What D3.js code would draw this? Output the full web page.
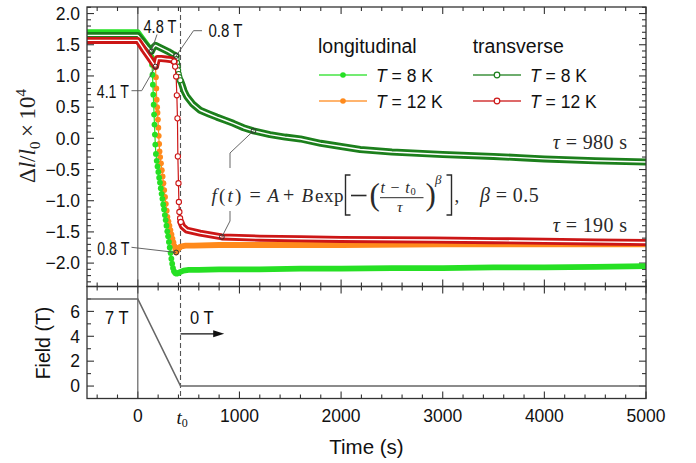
<!DOCTYPE html>
<html><head><meta charset="utf-8">
<script src="https://cdn.jsdelivr.net/npm/d3@7"></script>
<style>
body{margin:0;background:#fff}
svg text{font-family:"Liberation Sans",Arial,sans-serif}
.serif{font-family:"Liberation Serif","Times New Roman",serif}
</style></head>
<body><svg id="c" width="696" height="463"></svg>
<script>
// ---------------- data (time in s, Δl/l0 ×10^4) ----------------
const long8K = [[-500,1.70],[-350,1.70],[-200,1.70],[-50,1.70],[0,1.70],[45,1.60],[90,1.50],[132,1.40],
 [136,1.30],[140,1.18],[144,1.02],[148,0.86],[152,0.70],[156,0.54],[160,0.38],[164,0.22],[168,0.06],[172,-0.10],
 [178,-0.25],[186,-0.36],[194,-0.45],[202,-0.54],[210,-0.63],[218,-0.71],[226,-0.80],[234,-0.89],[242,-0.97],
 [250,-1.06],[258,-1.14],[266,-1.23],[274,-1.31],[282,-1.40],[290,-1.49],[298,-1.57],[306,-1.66],[314,-1.75],
 [322,-1.84],[330,-1.93],[338,-2.01],[346,-2.08],[356,-2.13],[368,-2.16],[382,-2.17],[396,-2.16],[420,-2.14],
 [450,-2.12],[500,-2.11],[600,-2.11],[800,-2.10],[1200,-2.10],[1600,-2.09],[2000,-2.09],[2500,-2.08],
 [3000,-2.08],[3500,-2.07],[4000,-2.07],[4500,-2.06],[5000,-2.05]];
const long12K = [[-500,1.57],[-350,1.57],[-200,1.57],[-50,1.57],[0,1.57],[60,1.42],[120,1.28],[174,1.15],
 [178,0.98],[182,0.80],[186,0.62],[190,0.50],[194,0.41],[198,0.30],[202,0.17],[206,0.04],[210,-0.09],[214,-0.21],
 [220,-0.30],[228,-0.40],[236,-0.51],[244,-0.61],[252,-0.72],[260,-0.83],[268,-0.94],[276,-1.05],[284,-1.16],
 [291,-1.26],[301,-1.33],[311,-1.40],[321,-1.47],[331,-1.54],[341,-1.61],[351,-1.67],[361,-1.73],[370,-1.78],
 [377,-1.83],[386,-1.80],[396,-1.77],[410,-1.75],[430,-1.73],[470,-1.72],[550,-1.72],[800,-1.71],[1200,-1.71],
 [2000,-1.71],[3000,-1.70],[4000,-1.70],[5000,-1.70]];
const trans8K = [[-500,1.65],[-350,1.65],[-200,1.65],[-50,1.65],[0,1.65],[45,1.56],[90,1.47],[132,1.39],
 [150,1.45],[175,1.49],[200,1.47],[250,1.43],[300,1.39],[340,1.35],[377,1.32],
 [381,1.27],[386,1.21],[391,1.15],[396,1.09],[402,1.03],[409,0.98],[418,0.93],[433,0.87],[455,0.76],[482,0.67],
 [540,0.55],[613,0.45],[700,0.39],[777,0.34],[860,0.29],[940,0.24],[1040,0.17],[1138,0.12],[1300,0.06],
 [1450,0.02],[1600,-0.01],[1800,-0.08],[2000,-0.13],[2188,-0.18],[2500,-0.22],[3000,-0.26],[3500,-0.29],
 [3762,-0.31],[4000,-0.33],[4500,-0.36],[5000,-0.38]];
const trans12K = [[-500,1.57],[-350,1.57],[-200,1.57],[-50,1.57],[0,1.57],[60,1.42],[120,1.28],[174,1.15],
 [193,1.28],[230,1.28],[280,1.27],[335,1.26],[357,1.23],[367,1.15],[377,0.99],[384,0.69],[390,0.32],[394,-0.29],
 [400,-0.72],[404,-1.02],[409,-1.18],[416,-1.28],[423,-1.34],[440,-1.41],[482,-1.47],[613,-1.52],[827,-1.58],
 [1200,-1.60],[1598,-1.61],[2000,-1.62],[2907,-1.63],[3500,-1.64],[4000,-1.65],[4500,-1.66],[5000,-1.67]];
const fieldProfile = [[-500,7],[0,7],[420,0],[5000,0]];
const t0 = 420;
const xTickLabels = [0,1000,2000,3000,4000,5000];
const yTopTicks = [-2.0,-1.5,-1.0,-0.5,0.0,0.5,1.0,1.5,2.0];
const yBotTicks = [0,2,4,6];
const seriesNames = ["T = 8 K","T = 12 K"];
// annotated points: [time, value, label]
const marks = [[132,1.39,"4.8 T"],[377,1.32,"0.8 T"],[174,1.15,"4.1 T"],[377,-1.83,"0.8 T"]];
const fitMarks = [[1138,0.12],[827,-1.58]];
const tauLabels = ["980","190"];

// ---------------- layout ----------------
const svg = d3.select("#c");
const L=87, R=646, T1=7, B1=286.5, B2=398.5;
const x = d3.scaleLinear([-500,5000],[L,R]);
const yT = d3.scaleLinear([-2.375,2.105],[B1,T1]);
const yB = d3.scaleLinear([-1,8],[B2,B1]);
const C = {l8:"#26e024", l12:"#ff8a1c", t8:"#1c7f1c", t12:"#cc1616"};
const axisCol="#333";

svg.append("defs").append("clipPath").attr("id","clipT").append("rect")
  .attr("x",L).attr("y",T1).attr("width",R-L).attr("height",B1-T1);

// ---------- axes & ticks ----------
function ticksX(yPos, dir){
  const g=svg.append("g");
  d3.range(-400,5001,200).forEach(v=>{
    const major = v%1000===0;
    const len = major?7:4;
    g.append("line").attr("x1",x(v)).attr("x2",x(v)).attr("y1",yPos).attr("y2",yPos+dir*len)
      .attr("stroke",axisCol).attr("stroke-width",1.1);
  });
}
ticksX(B1,-1); ticksX(T1,1); ticksX(B1,1); ticksX(B2,-1);
function ticksY(scale, vals, majors, xPos, dir){
  const g=svg.append("g");
  vals.forEach(v=>{
    const major = majors.some(m=>Math.abs(m-v)<1e-6);
    const len = major?7:4;
    g.append("line").attr("x1",xPos).attr("x2",xPos+dir*len).attr("y1",scale(v)).attr("y2",scale(v))
      .attr("stroke",axisCol).attr("stroke-width",1.1);
  });
}
const minorTop = d3.range(-23,22).map(d=>d/10);
ticksY(yT,minorTop,yTopTicks,L,1); ticksY(yT,minorTop,yTopTicks,R,-1);
const minorBot = d3.range(0,8);
ticksY(yB,minorBot,yBotTicks,L,1); ticksY(yB,minorBot,yBotTicks,R,-1);

const fmtTop = v => (v<0?"\u2212":"")+Math.abs(v).toFixed(1);
svg.append("g").selectAll("text").data(yTopTicks).join("text")
  .attr("x",L-7).attr("y",d=>yT(d)).attr("dy","0.36em").attr("text-anchor","end")
  .attr("font-size",17.5).attr("fill","#111").text(fmtTop);
svg.append("g").selectAll("text").data(yBotTicks).join("text")
  .attr("x",L-7).attr("y",d=>yB(d)).attr("dy","0.36em").attr("text-anchor","end")
  .attr("font-size",17.5).attr("fill","#111").text(d=>d);
svg.append("g").selectAll("text").data(xTickLabels).join("text")
  .attr("x",d=>x(d)).attr("y",421.5).attr("text-anchor","middle")
  .attr("font-size",17.5).attr("fill","#111").text(d=>d);
const t0l = svg.append("text").attr("class","serif").attr("x",x(t0)-4).attr("y",424)
  .attr("font-size",19).attr("fill","#111");
t0l.append("tspan").attr("font-style","italic").text("t");
t0l.append("tspan").attr("font-size",12).attr("dy",3).text("0");

svg.append("text").attr("x",(L+R)/2).attr("y",454).attr("text-anchor","middle")
  .attr("font-size",20.5).attr("fill","#111").text("Time (s)");
svg.append("text").attr("transform","translate(50,343) rotate(-90)").attr("text-anchor","middle")
  .attr("font-size",19.5).attr("fill","#111").text("Field (T)");
const yl = svg.append("text").attr("class","serif").attr("transform","translate(35,136) rotate(-90)")
  .attr("text-anchor","middle").attr("font-size",23).attr("fill","#222");
yl.append("tspan").text("\u0394");
yl.append("tspan").attr("font-style","italic").text("l");
yl.append("tspan").text("/");
yl.append("tspan").attr("font-style","italic").text("l");
yl.append("tspan").attr("font-size",15).attr("dy",5).text("0");
yl.append("tspan").attr("dy",-5).text("\u2009\u00d7\u200910");
yl.append("tspan").attr("font-size",15).attr("dy",-9).text("4");

// ---------- reference lines ----------
svg.append("line").attr("x1",x(0)).attr("x2",x(0)).attr("y1",T1).attr("y2",B2)
  .attr("stroke","#555").attr("stroke-width",1.1);
svg.append("line").attr("x1",x(t0)).attr("x2",x(t0)).attr("y1",T1).attr("y2",B2)
  .attr("stroke","#555").attr("stroke-width",1.1).attr("stroke-dasharray","5,3");

// ---------- field panel ----------
svg.append("path").attr("d",d3.line().x(d=>x(d[0])).y(d=>yB(d[1]))(fieldProfile))
  .attr("fill","none").attr("stroke","#666").attr("stroke-width",1.6);
svg.append("text").attr("x",105).attr("y",323.5).attr("font-size",18).attr("fill","#111")
  .attr("textLength",23.5).attr("lengthAdjust","spacingAndGlyphs").text("7 T");
svg.append("text").attr("x",190).attr("y",323.5).attr("font-size",18).attr("fill","#111")
  .attr("textLength",23.5).attr("lengthAdjust","spacingAndGlyphs").text("0 T");
svg.append("line").attr("x1",x(t0)).attr("x2",x(850)-9).attr("y1",yB(4.2)).attr("y2",yB(4.2))
  .attr("stroke","#111").attr("stroke-width",1.2);
svg.append("path").attr("d",`M${x(850)},${yB(4.2)} l-11,-3.5 l0,7 z`).attr("fill","#111");

// ---------- series ----------
const gS = svg.append("g").attr("clip-path","url(#clipT)");
function drawSeries(data,color,filled){
  const g=gS.append("g");
  const line=d3.line().x(d=>x(d[0])).y(d=>yT(d[1]));
  const slow=[];
  for(let i=0;i<data.length-1;i++) slow.push(data[i+1][0]-data[i][0]>=15);
  g.append("path").attr("d",line(data)).attr("fill","none").attr("stroke",color).attr("stroke-width",1.2);
  const runs=[]; let cur=null;
  slow.forEach((s,i)=>{ if(s){ if(!cur){cur=[data[i]];runs.push(cur);} cur.push(data[i+1]); } else cur=null; });
  runs.forEach(r=>{
    g.append("path").attr("d",line(r)).attr("fill","none").attr("stroke",color)
      .attr("stroke-width",filled?5.8:7).attr("stroke-linecap","round").attr("stroke-linejoin","round");
    if(!filled) g.append("path").attr("d",line(r)).attr("fill","none").attr("stroke","#fff")
      .attr("stroke-width",1.4).attr("stroke-linejoin","round");
  });
  data.forEach((d,i)=>{
    const fast=(i>0&&!slow[i-1])||(i<slow.length&&!slow[i]);
    if(!fast) return;
    const c=g.append("circle").attr("cx",x(d[0])).attr("cy",yT(d[1]));
    if(filled) c.attr("r",2.9).attr("fill",color);
    else c.attr("r",2.6).attr("fill","#fff").attr("stroke",color).attr("stroke-width",1.1);
  });
}
drawSeries(long12K,C.l12,true);
drawSeries(long8K,C.l8,true);
drawSeries(trans8K,C.t8,false);
drawSeries(trans12K,C.t12,false);

// ---------- frames ----------
svg.append("rect").attr("x",L).attr("y",T1).attr("width",R-L).attr("height",B1-T1)
  .attr("fill","none").attr("stroke",axisCol).attr("stroke-width",1.3);
svg.append("rect").attr("x",L).attr("y",B1).attr("width",R-L).attr("height",B2-B1)
  .attr("fill","none").attr("stroke",axisCol).attr("stroke-width",1.3);

// ---------- annotations ----------
const annG=svg.append("g");
const leader=(pts)=>annG.append("polyline").attr("points",pts.map(p=>p.join(",")).join(" "))
  .attr("fill","none").attr("stroke","#555").attr("stroke-width",0.9);
const P=(t,v)=>[x(t),yT(v)];
const labPos=[[143.5,33.3],[208.5,36.7],[96.8,97.7],[97.3,255]];
const labLen=[33,34,32,32];
const leaders=[
  [[157,34.5],P(marks[0][0],marks[0][1])],
  [[202,30.7],[193.5,30.7],P(marks[1][0],marks[1][1])],
  [[131.5,90.7],[141.7,90.7],P(marks[2][0],marks[2][1])],
  [[131.5,247.3],P(marks[3][0],marks[3][1])]
];
leaders.forEach(l=>leader(l));
marks.forEach((m,i)=>{
  annG.append("text").attr("x",labPos[i][0]).attr("y",labPos[i][1]).attr("font-size",18).attr("fill","#111")
    .attr("textLength",labLen[i]).attr("lengthAdjust","spacingAndGlyphs").text(m[2]);
});
leader([P(fitMarks[0][0],fitMarks[0][1]),[230,153],[230,168]]);
leader([[230,211],[230,221],P(fitMarks[1][0],fitMarks[1][1])]);
[...marks.map(m=>[m[0],m[1]]),...fitMarks].forEach(m=>{
  annG.append("circle").attr("cx",x(m[0])).attr("cy",yT(m[1])).attr("r",2.4)
    .attr("fill","none").attr("stroke","#333").attr("stroke-width",1);
});

// formula
const F=svg.append("g").attr("fill","#2a2a2a");
function tx(xp,yp,parts,fs,ls){
  const t=F.append("text").attr("class","serif").attr("x",xp).attr("y",yp).attr("font-size",fs||19);
  if(ls) t.attr("letter-spacing",ls);
  parts.forEach(p=>{const s=t.append("tspan").text(p[0]); if(p[1]) s.attr("font-style","italic"); if(p[2]) s.attr("font-size",p[2]); if(p[3]) s.attr("dy",p[3]);});
  return t;
}
const BL=201.7;
tx(211.5,BL,[["f",1],["(",0],["t",1],[")",0]],19,2.2);
tx(249.5,BL,[["=",0]],20);
tx(267.5,BL,[["A",1]]);
tx(283,BL,[["+",0]],20);
tx(301.5,BL,[["B",1]]);
tx(315,BL,[["exp",0]],19,0.5);
F.append("path").attr("d","M350.5,175 H345.5 V215 H350.5").attr("fill","none").attr("stroke","#2a2a2a").attr("stroke-width",1.4);
F.append("line").attr("x1",351).attr("x2",366.5).attr("y1",195.5).attr("y2",195.5).attr("stroke","#2a2a2a").attr("stroke-width",1.6);
tx(369.5,205,[["(",0]],31);
tx(380.5,192.8,[["t",1],[" \u2212 ",0],["t",1],["0",0,10.5,2.3]],16,0.8);
F.append("line").attr("x1",380).attr("x2",423.5).attr("y1",197.7).attr("y2",197.7).attr("stroke","#2a2a2a").attr("stroke-width",1);
tx(397,212,[["\u03c4",1]],15.5);
tx(425.5,205,[[")",0]],31);
tx(435,184,[["\u03b2",1]],13);
F.append("path").attr("d","M446.5,175 H451.5 V215 H446.5").attr("fill","none").attr("stroke","#2a2a2a").attr("stroke-width",1.4);
tx(454.5,BL,[[",",0]]);
tx(480,BL,[["\u03b2",1],[" = 0.5",0]],20,0.4);
tx(627.5,149.3,[["\u03c4",1],[" = "+tauLabels[0]+" s",0]],20,0.4).attr("text-anchor","end");
tx(627.5,231.7,[["\u03c4",1],[" = "+tauLabels[1]+" s",0]],20,0.4).attr("text-anchor","end");

// ---------- legend ----------
const lg=svg.append("g");
lg.append("text").attr("x",318).attr("y",53).attr("font-size",19.5).attr("fill","#111").text("longitudinal");
lg.append("text").attr("x",472.7).attr("y",53).attr("font-size",19.5).attr("fill","#111").text("transverse");
const legItems=[[319,75,C.l8,true,seriesNames[0]],[319,101,C.l12,true,seriesNames[1]],
                [473,75,C.t8,false,seriesNames[0]],[473,101,C.t12,false,seriesNames[1]]];
legItems.forEach(([lx,ly,col,filled,name])=>{
  lg.append("line").attr("x1",lx).attr("x2",lx+48).attr("y1",ly).attr("y2",ly)
    .attr("stroke",col).attr("stroke-width",1.3).attr("opacity",0.85);
  const c=lg.append("circle").attr("cx",lx+24).attr("cy",ly).attr("r",2.8);
  if(filled) c.attr("fill",col); else c.attr("fill","#fff").attr("stroke",col).attr("stroke-width",1.2);
  const t=lg.append("text").attr("x",lx+57).attr("y",ly+7).attr("font-size",17.5).attr("fill","#111");
  t.append("tspan").attr("font-style","italic").text(name.slice(0,1));
  t.append("tspan").text(name.slice(1));
});
</script>
</body></html>
